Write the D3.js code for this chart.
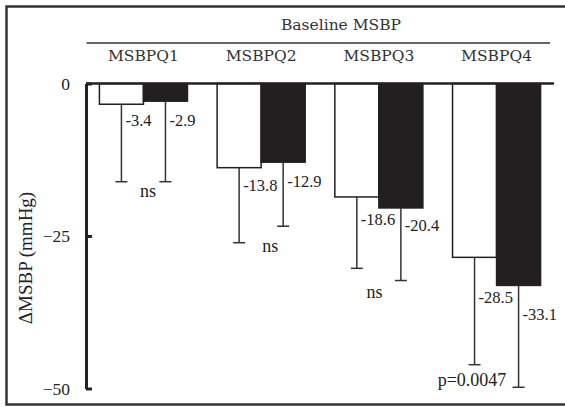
<!DOCTYPE html>
<html>
<head>
<meta charset="utf-8">
<script src="https://cdn.jsdelivr.net/npm/d3@7"></script>
<style>
  html, body { margin: 0; padding: 0; background: #fff; }
  svg { display: block; }
</style>
</head>
<body>
<div id="grafico"></div>
<script>
// datos
const grupos = ["MSBPQ1", "MSBPQ2", "MSBPQ3", "MSBPQ4"];
const series = ["blanco", "negro"];
const mediaBlanco = [-3.4, -13.8, -18.6, -28.5];
const mediaNegro = [-2.9, -12.9, -20.4, -33.1];
const sdBlanco = [12.7, 12.3, 11.7, 17.6];
const sdNegro = [13.2, 10.5, 11.9, 16.7];
const etiquetasSig = ["ns", "ns", "ns", "p=0.0047"];
const ticksY = [0, -25, -50];

const width = 565;
const height = 407;
const serif = "Times New Roman";
const serifAncha = "DejaVu Serif";
const negro = "#231f20";

const svg = d3
  .select("#grafico")
  .append("svg")
  .attr("width", width)
  .attr("height", height);

// marco
svg
  .append("rect")
  .attr("x", 6.5)
  .attr("y", 6.5)
  .attr("width", 570)
  .attr("height", 398)
  .attr("fill", "none")
  .attr("stroke", "#333")
  .attr("stroke-width", 2.5);

const y = d3.scaleLinear().domain([0, -50]).range([83.5, 388.5]);

const x0 = d3
  .scaleBand()
  .domain(grupos)
  .range([86, 554])
  .paddingInner(0.252)
  .paddingOuter(0.114);

const x1 = d3.scaleBand().domain(series).range([0, x0.bandwidth()]);

const datos = grupos.flatMap((g, i) => [
  { grupo: g, serie: "blanco", media: mediaBlanco[i], sd: sdBlanco[i], i },
  { grupo: g, serie: "negro", media: mediaNegro[i], sd: sdNegro[i], i },
]);

// encabezado
svg
  .append("text")
  .attr("x", 341)
  .attr("y", 30)
  .attr("text-anchor", "middle")
  .style("font-family", serifAncha)
  .style("font-size", "15.5px")
  .style("fill", "#333")
  .text("Baseline MSBP");

svg
  .append("line")
  .attr("x1", 86.5)
  .attr("x2", 550)
  .attr("y1", 43)
  .attr("y2", 43)
  .attr("stroke", "#333")
  .attr("stroke-width", 1.5);

svg
  .selectAll("text.grupo")
  .data(grupos)
  .join("text")
  .attr("class", "grupo")
  .attr("x", (d) => x0(d) + x0.bandwidth() / 2)
  .attr("y", 61)
  .attr("text-anchor", "middle")
  .style("font-family", serifAncha)
  .style("font-size", "15.5px")
  .style("fill", "#333")
  .text((d) => d);

// barras
svg
  .selectAll("rect.barra")
  .data(datos)
  .join("rect")
  .attr("class", "barra")
  .attr("x", (d) => x0(d.grupo) + x1(d.serie))
  .attr("y", y(0))
  .attr("width", x1.bandwidth())
  .attr("height", (d) => y(d.media) - y(0))
  .attr("fill", (d) => (d.serie === "negro" ? negro : "#fff"))
  .attr("stroke", negro)
  .attr("stroke-width", 1.5);

// barras de error (solo hacia abajo)
const cx = (d) => x0(d.grupo) + x1(d.serie) + x1.bandwidth() / 2;
const error = svg.append("g").attr("stroke", "#333").attr("stroke-width", 1.5);

error
  .selectAll("line.vert")
  .data(datos)
  .join("line")
  .attr("class", "vert")
  .attr("x1", cx)
  .attr("x2", cx)
  .attr("y1", (d) => y(d.media))
  .attr("y2", (d) => y(d.media - d.sd));

error
  .selectAll("line.tapa")
  .data(datos)
  .join("line")
  .attr("class", "tapa")
  .attr("x1", (d) => cx(d) - 6)
  .attr("x2", (d) => cx(d) + 6)
  .attr("y1", (d) => y(d.media - d.sd))
  .attr("y2", (d) => y(d.media - d.sd));

// etiquetas de valor (desplazamiento vertical a mano, como en el original)
const dyEtiqueta = [21.5, 25, 23, 25, 28, 23, 46, 35];
svg
  .selectAll("text.valor")
  .data(datos)
  .join("text")
  .attr("class", "valor")
  .attr("x", (d) => cx(d) + 4)
  .attr("y", (d, k) => y(d.media) + dyEtiqueta[k])
  .style("font-family", serif)
  .style("font-size", "16.5px")
  .style("fill", "#222")
  .text((d) => d.media.toFixed(1));

// etiquetas de significancia
const dxSig = [4.6, 9, -4.3, -24.5];
const dySig = [15.5, 9.5, 30, 21.5];
svg
  .selectAll("text.sig")
  .data(etiquetasSig)
  .join("text")
  .attr("class", "sig")
  .attr("x", (d, i) => x0(grupos[i]) + x0.bandwidth() / 2 + dxSig[i])
  .attr("y", (d, i) => y(mediaBlanco[i] - sdBlanco[i]) + dySig[i])
  .attr("text-anchor", "middle")
  .style("font-family", serif)
  .style("font-size", "18px")
  .style("fill", "#222")
  .text((d) => d);

// linea de cero
svg
  .append("line")
  .attr("x1", 86)
  .attr("x2", 554)
  .attr("y1", y(0))
  .attr("y2", y(0))
  .attr("stroke", "#222")
  .attr("stroke-width", 2.5);

// eje y
const ejeY = svg
  .append("g")
  .attr("transform", "translate(86,0)")
  .call(
    d3
      .axisLeft(y)
      .tickValues(ticksY)
      .tickFormat(d3.format("d"))
      .tickSize(-6)
      .tickSizeOuter(0)
      .tickPadding(16)
  );

ejeY.select(".domain").attr("stroke", "#222").attr("stroke-width", 3);
ejeY.selectAll(".tick line").attr("stroke", "#222").attr("stroke-width", 3);
ejeY
  .selectAll(".tick text")
  .style("font-family", serif)
  .style("font-size", "17.5px")
  .style("fill", "#222");

svg
  .append("text")
  .attr("transform", "translate(32,258) rotate(-90)")
  .attr("text-anchor", "middle")
  .style("font-family", serif)
  .style("font-size", "19px")
  .style("fill", "#222")
  .text("ΔMSBP (mmHg)");
</script>
</body>
</html>
